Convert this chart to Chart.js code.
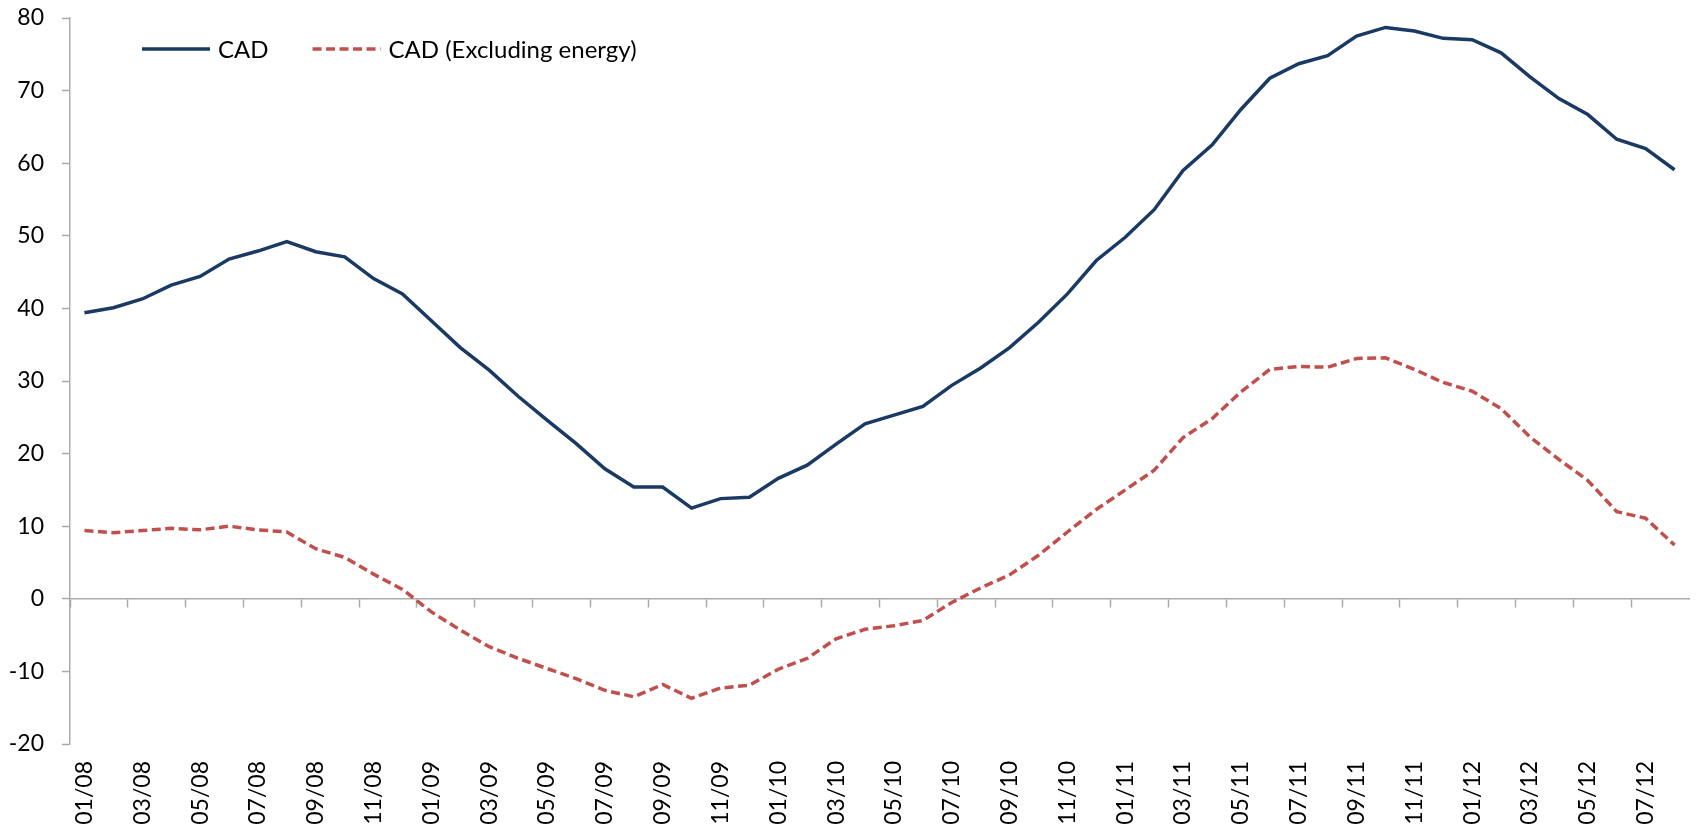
<!DOCTYPE html>
<html lang="en">
<head>
    <meta charset="UTF-8">
    <title>CAD</title>
    <style>
        * { margin: 0; padding: 0; }
        body { background: #fff; }
        .container { position: relative; width: 1698px; height: 832px; }
    </style>
</head>
<body>
    <div class="container">
        <canvas id="chart"></canvas>
    </div>
    <script src="https://cdn.jsdelivr.net/npm/chart.js@4/dist/chart.umd.min.js"></script>
    <script>
    // monthly, 01/08 .. 08/12
    var months = ["01/08", "02/08", "03/08", "04/08", "05/08", "06/08", "07/08", "08/08", "09/08", "10/08", "11/08", "12/08",
        "01/09", "02/09", "03/09", "04/09", "05/09", "06/09", "07/09", "08/09", "09/09", "10/09", "11/09", "12/09",
        "01/10", "02/10", "03/10", "04/10", "05/10", "06/10", "07/10", "08/10", "09/10", "10/10", "11/10", "12/10",
        "01/11", "02/11", "03/11", "04/11", "05/11", "06/11", "07/11", "08/11", "09/11", "10/11", "11/11", "12/11",
        "01/12", "02/12", "03/12", "04/12", "05/12", "06/12", "07/12", "08/12"]

    var cad = [39.4, 40.1, 41.3, 43.2, 44.4, 46.8, 47.9, 49.2, 47.8, 47.1, 44.1, 42.0,
        38.3, 34.6, 31.5, 27.9, 24.6, 21.4, 17.9, 15.4, 15.4, 12.5, 13.8, 14.0,
        16.6, 18.4, 21.3, 24.1, 25.3, 26.5, 29.4, 31.8, 34.6, 38.1, 42.0, 46.6,
        49.8, 53.6, 59.0, 62.5, 67.4, 71.7, 73.7, 74.8, 77.5, 78.7, 78.2, 77.2,
        77.0, 75.2, 71.9, 68.9, 66.7, 63.3, 62.0, 59.1]

    var cadExEnergy = [9.4, 9.1, 9.4, 9.7, 9.5, 10.0, 9.5, 9.2, 6.9, 5.7, 3.4, 1.3,
        -1.8, -4.3, -6.6, -8.2, -9.6, -11.0, -12.6, -13.5, -11.8, -13.7, -12.3, -11.9,
        -9.7, -8.2, -5.5, -4.2, -3.7, -3.0, -0.5, 1.5, 3.3, 6.0, 9.2, 12.3,
        15.0, 17.7, 22.2, 24.8, 28.5, 31.6, 32.0, 31.9, 33.1, 33.2, 31.6, 29.8,
        28.6, 26.2, 22.3, 19.2, 16.3, 12.0, 11.1, 7.4]

    var yTicks = [-20, -10, 0, 10, 20, 30, 40, 50, 60, 70, 80]

    var axisGrey = '#ABABAB';

    Chart.defaults.font.family = 'Lato';
    Chart.defaults.font.size = 23;
    Chart.defaults.color = '#000';

    // legend sits inside the plot, top left
    var innerLegend = {
        id: 'innerLegend',
        afterDatasetsDraw(chart) {
            var ctx = chart.ctx;
            var area = chart.chartArea;
            var x = area.left + 72;
            var y = area.top + 31;
            ctx.save();
            ctx.font = '24px Lato';
            ctx.textBaseline = 'middle';
            chart.data.datasets.forEach(function (ds) {
                ctx.strokeStyle = ds.borderColor;
                ctx.lineWidth = ds.borderWidth;
                ctx.setLineDash(ds.borderDash || []);
                ctx.beginPath();
                ctx.moveTo(x, y);
                ctx.lineTo(x + 68, y);
                ctx.stroke();
                ctx.setLineDash([]);
                ctx.fillStyle = '#000';
                ctx.fillText(ds.label, x + 76, y + 1);
                x += 76 + ctx.measureText(ds.label).width + 44;
            });
            ctx.restore();
        }
    };

    // keep the plot box fixed, labels may overhang
    function noPad(s) {
        s.paddingTop = 0;
        s.paddingBottom = 0;
        s.paddingLeft = 0;
        s.paddingRight = 0;
    }

    var ctx = document.getElementById('chart').getContext('2d');
    var myChart = new Chart(ctx, {
        type: 'line',
        data: {
            labels: months,
            datasets: [{
                label: 'CAD',
                data: cad,
                borderColor: '#1B3A63',
                backgroundColor: '#1B3A63',
                borderWidth: 3.5,
                pointRadius: 0,
                tension: 0
            }, {
                label: 'CAD (Excluding energy)',
                data: cadExEnergy,
                borderColor: '#C0504D',
                backgroundColor: '#C0504D',
                borderWidth: 3.5,
                borderDash: [9, 4.5],
                pointRadius: 0,
                tension: 0
            }]
        },
        options: {
            responsive: true,
            maintainAspectRatio: false,
            animation: false,
            layout: { padding: { top: 18, right: 9, left: 0, bottom: 0 } },
            plugins: {
                legend: { display: false },
                tooltip: { enabled: false }
            },
            scales: {
                x: {
                    offset: true,
                    grid: { display: false, drawTicks: false },
                    border: { display: false },
                    ticks: {
                        autoSkip: false,
                        minRotation: 90,
                        maxRotation: 90,
                        padding: 17,
                        callback: function (v, i) { return i % 2 === 0 ? months[i] : ''; }
                    },
                    afterFit: function (s) { s.height = 88; noPad(s); }
                },
                x0: {
                    type: 'category',
                    position: { y: 0 },
                    offset: true,
                    ticks: { display: false },
                    grid: {
                        offset: true,
                        drawOnChartArea: false,
                        tickLength: 8,
                        tickWidth: 1.5,
                        tickColor: function (c) { return c.index % 2 === 0 ? axisGrey : 'rgba(0,0,0,0)'; }
                    },
                    border: { color: axisGrey, width: 1.5 },
                    afterFit: noPad
                },
                y: {
                    min: -20,
                    max: 80,
                    afterBuildTicks: function (s) { s.ticks = yTicks.map(function (v) { return { value: v }; }); },
                    grid: { drawOnChartArea: false, tickLength: 8, tickColor: axisGrey, tickWidth: 1.5 },
                    border: { color: axisGrey, width: 1.5 },
                    ticks: { padding: 18 },
                    afterFit: function (s) { s.width = 70; noPad(s); }
                }
            }
        },
        plugins: [innerLegend]
    });
    </script>
</body>
</html>
